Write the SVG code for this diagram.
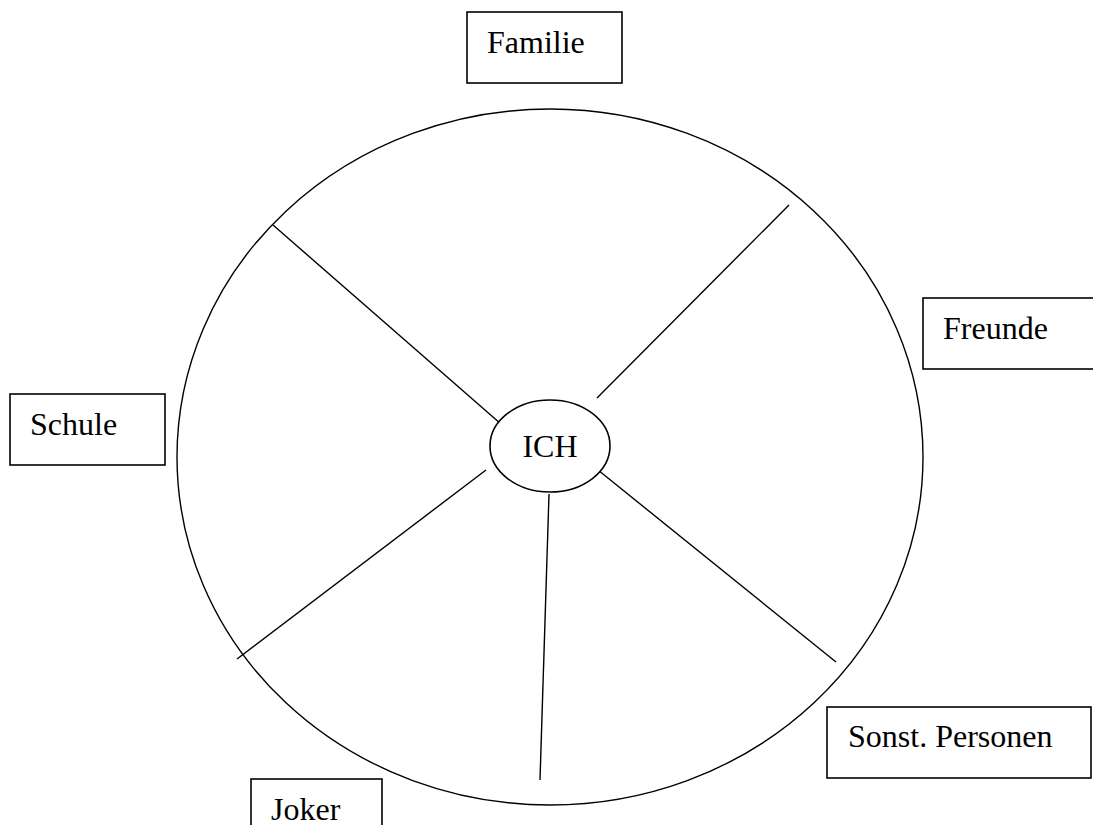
<svg xmlns="http://www.w3.org/2000/svg" width="1093" height="825" viewBox="0 0 1093 825">
<style>
.box{fill:#fff;stroke:#000;stroke-width:1.6}
.lbl{font-family:"Liberation Serif","Times New Roman",serif;font-size:32px;fill:#000}
.ln{stroke:#000;stroke-width:1.4;fill:none}
</style>
<rect width="1093" height="825" fill="#fff"/>
<g id="circle"><ellipse cx="550" cy="457" rx="373" ry="348" class="ln"/></g>
<g id="connectors">
<line class="ln" x1="273" y1="225" x2="501" y2="424"/>
<line class="ln" x1="789" y1="205" x2="597" y2="398"/>
<line class="ln" x1="237" y1="659" x2="486" y2="470"/>
<line class="ln" x1="836" y1="662" x2="598" y2="470"/>
<line class="ln" x1="549" y1="494" x2="540" y2="780"/>
</g>
<g id="ich"><ellipse cx="550" cy="446" rx="60" ry="46" class="box"/><text class="lbl" x="550" y="457" text-anchor="middle">ICH</text></g>
<g id="familie"><rect class="box" x="467" y="12" width="155" height="71"/><text class="lbl" x="487" y="53">Familie</text></g>
<g id="freunde"><rect class="box" x="923" y="298" width="175" height="71"/><text class="lbl" x="943" y="339">Freunde</text></g>
<g id="schule"><rect class="box" x="10" y="394" width="155" height="71"/><text class="lbl" x="30" y="435">Schule</text></g>
<g id="sonst"><rect class="box" x="827" y="707" width="264" height="71"/><text class="lbl" x="848" y="747">Sonst. Personen</text></g>
<g id="joker"><rect class="box" x="251" y="779" width="131" height="71"/><text class="lbl" x="271" y="820">Joker</text></g>
</svg>
